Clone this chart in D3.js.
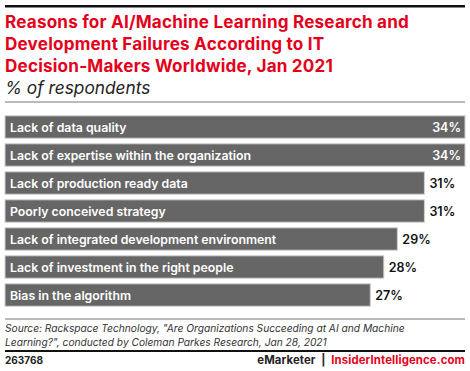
<!DOCTYPE html>
<html><head><meta charset="utf-8">
<script src="https://cdn.jsdelivr.net/npm/d3@7"></script>
<style>body{margin:0;background:#fff}svg{display:block}</style>
</head><body>
<script>
const categories = ["Lack of data quality","Lack of expertise within the organization","Lack of production ready data","Poorly conceived strategy","Lack of integrated development environment","Lack of investment in the right people","Bias in the algorithm"];
const values = [34,34,31,31,29,28,27];
const titleLines = ["Reasons for AI/Machine Learning Research and","Development Failures According to IT","Decision-Makers Worldwide, Jan 2021"];
const subtitle = "% of respondents";
const sourceLines = ["Source: Rackspace Technology, \"Are Organizations Succeeding at AI and Machine","Learning?\", conducted by Coleman Parkes Research, Jan 28, 2021"];
const chartId = "263768";

const W=470,H=371,font="Inter, 'Open Sans', sans-serif";
const svg=d3.select("body").append("svg").attr("width",W).attr("height",H).style("font-family",font);

svg.append("rect").attr("x",5).attr("y",5).attr("width",460).attr("height",2.5).attr("fill","#111");
svg.selectAll(".t").data(titleLines).join("text").attr("x",5).attr("y",(d,i)=>28+i*22)
  .attr("fill","#e4001b").attr("font-weight",700).attr("font-size",17.1).attr("letter-spacing",0.2).text(d=>d);
svg.append("text").attr("x",5).attr("y",94).attr("font-style","italic").attr("font-size",17.3).attr("fill","#222").text(subtitle);
svg.append("rect").attr("x",5).attr("y",101.5).attr("width",460).attr("height",1).attr("fill","#777");

const x=d3.scaleLinear().domain([0,34]).range([5,465]);
const y=d3.scaleBand().domain(categories).range([113,309]).paddingInner(0.2).paddingOuter(0.1);
const g=svg.append("g");
g.selectAll("rect.bar").data(categories).join("rect").attr("class","bar")
  .attr("x",x(0)).attr("y",d=>y(d)).attr("width",(d,i)=>x(values[i])-x(0)).attr("height",y.bandwidth())
  .attr("fill","#666").attr("stroke","#d0d0d0").attr("stroke-width",1);
g.selectAll("text.lab").data(categories).join("text").attr("class","lab")
  .attr("x",10).attr("y",d=>y(d)+y.bandwidth()/2+4.5).attr("fill","#fff").attr("font-weight",600).attr("font-size",12.3).text(d=>d);
g.selectAll("text.val").data(categories).join("text").attr("class","val")
  .attr("x",(d,i)=>values[i]>=33? x(values[i])-4 : x(values[i])+5)
  .attr("text-anchor",(d,i)=>values[i]>=33?"end":"start")
  .attr("y",d=>y(d)+y.bandwidth()/2+4.5).attr("fill",(d,i)=>values[i]>=33?"#fff":"#111")
  .attr("font-weight",600).attr("font-size",12.5).text((d,i)=>values[i]+"%");

svg.append("rect").attr("x",5).attr("y",318.5).attr("width",460).attr("height",1).attr("fill","#777");
svg.selectAll(".s").data(sourceLines).join("text").attr("x",5).attr("y",(d,i)=>332+i*13.5)
  .attr("font-style","italic").attr("font-size",10.2).attr("fill","#333").text(d=>d);
svg.append("rect").attr("x",5).attr("y",350).attr("width",460).attr("height",2).attr("fill","#111");
svg.append("text").attr("x",5).attr("y",364).attr("font-weight",700).attr("font-size",10).attr("fill","#222").text(chartId);
const ft=svg.append("text").attr("x",465).attr("y",364).attr("text-anchor","end").attr("font-weight",700).attr("font-size",11.3).attr("letter-spacing",0.15).style("white-space","pre");
ft.append("tspan").attr("fill","#222").text("eMarketer  |  ");
ft.append("tspan").attr("fill","#e4001b").text("InsiderIntelligence.com");
</script>
</body></html>
